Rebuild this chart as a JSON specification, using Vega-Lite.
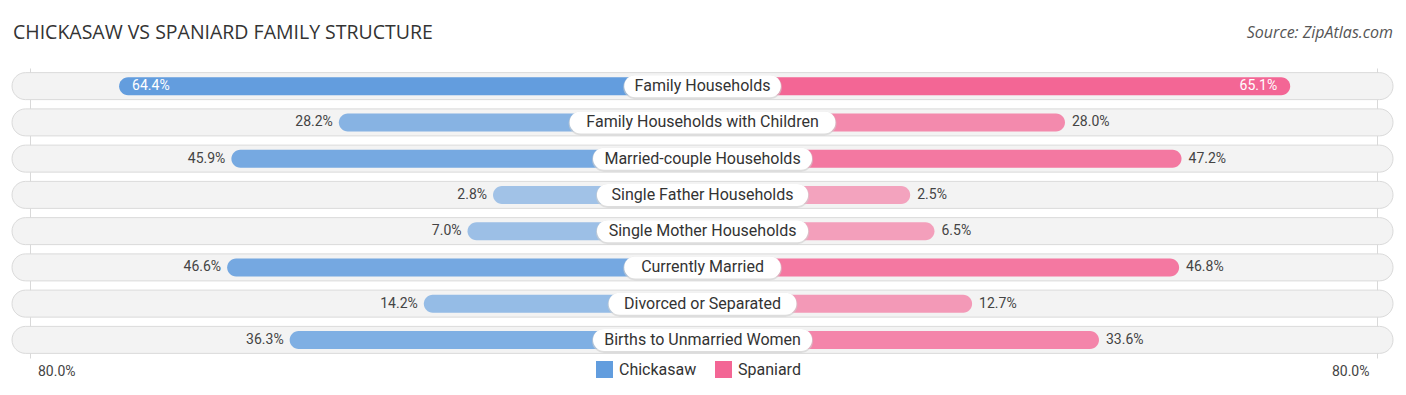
{
  "$schema": "https://vega.github.io/schema/vega-lite/v6.json",
  "width": 1406,
  "height": 290,
  "autosize": {"type": "none"},
  "padding": {"left": 0, "top": 68, "right": 0, "bottom": 37},
  "background": "white",
  "config": {"view": {"stroke": null}, "font": "Roboto"},
  "data": {"values": [
    {"cat": "Family Households", "chick": 0.644, "span": 0.651},
    {"cat": "Family Households with Children", "chick": 0.282, "span": 0.280},
    {"cat": "Married-couple Households", "chick": 0.459, "span": 0.472},
    {"cat": "Single Father Households", "chick": 0.028, "span": 0.025},
    {"cat": "Single Mother Households", "chick": 0.070, "span": 0.065},
    {"cat": "Currently Married", "chick": 0.466, "span": 0.468},
    {"cat": "Divorced or Separated", "chick": 0.142, "span": 0.127},
    {"cat": "Births to Unmarried Women", "chick": 0.363, "span": 0.336}
  ]},
  "encoding": {
    "y": {"field": "cat", "type": "nominal", "sort": null, "axis": null, "scale": {"paddingInner": 0, "paddingOuter": 0}}
  },
  "layer": [
    {
      "encoding": {
        "x": {"type": "quantitative", "scale": {"domain": [-1.4761, 0.8402], "reverse": true, "nice": false, "zero": false},
              "axis": {"values": [0.79], "labelExpr": "'80.0%'", "grid": true, "gridColor": "#d9d9d9", "gridWidth": 1, "domain": false, "ticks": false, "title": null, "orient": "bottom", "labelAlign": "left", "labelOffset": 7, "labelPadding": 6, "labelFontSize": 14, "labelColor": "#444444", "labelFont": "Roboto"}}
      },
      "layer": [
        {"mark": {"type": "bar", "height": 27, "cornerRadius": 13.5, "fill": "#f3f3f3", "stroke": "#dadada", "strokeWidth": 1},
         "encoding": {"x": {"datum": 0.8204, "type": "quantitative"}, "x2": {"datum": -1.4547}}},
        {"mark": {"type": "bar", "height": 18, "cornerRadius": 9},
         "encoding": {"x": {"field": "chick", "type": "quantitative"}, "x2": {"datum": -0.3171},
                      "color": {"datum": "Chickasaw", "type": "nominal",
                                "scale": {"domain": ["Chickasaw", "Spaniard"], "range": ["#629dde", "#f36695"]},
                                "legend": {"orient": "none", "legendX": 596, "legendY": 293, "direction": "horizontal", "title": null, "symbolType": "square", "symbolSize": 289, "symbolStrokeWidth": 0, "labelFontSize": 16, "labelColor": "#333333", "labelOffset": 6, "columnPadding": 18, "padding": 0, "labelFont": "Roboto"}},
                      "opacity": {"field": "chick", "type": "quantitative", "scale": {"domain": [0, 0.65], "range": [0.55, 1]}, "legend": null}}},
        {"transform": [{"filter": "datum.chick < 0.6"}],
         "mark": {"type": "text", "align": "right", "dx": -6, "fontSize": 14, "color": "#444444"},
         "encoding": {"x": {"field": "chick", "type": "quantitative"}, "text": {"field": "chick", "format": ".1%"}}},
        {"transform": [{"filter": "datum.chick >= 0.6"}],
         "mark": {"type": "text", "align": "left", "dx": 13, "fontSize": 14, "color": "white"},
         "encoding": {"x": {"field": "chick", "type": "quantitative"}, "text": {"field": "chick", "format": ".1%"}}},
        {"data": {"values": [{"t": "CHICKASAW VS SPANIARD FAMILY STRUCTURE"}]},
         "mark": {"type": "text", "align": "left", "baseline": "middle", "fontSize": 19.5, "font": "Open Sans", "color": "#333333"},
         "encoding": {"x": {"datum": 0.8188, "type": "quantitative"}, "y": {"value": -35}, "text": {"field": "t"}}}
      ]
    },
    {
      "encoding": {
        "x": {"type": "quantitative", "scale": {"domain": [-1.4745, 0.8418], "nice": false, "zero": false},
              "axis": {"values": [0.794], "labelExpr": "'80.0%'", "grid": true, "gridColor": "#d9d9d9", "gridWidth": 1, "domain": false, "ticks": false, "title": null, "orient": "bottom", "labelAlign": "right", "labelOffset": -8, "labelPadding": 6, "labelFontSize": 14, "labelColor": "#444444", "labelFont": "Roboto"}}
      },
      "layer": [
        {"mark": {"type": "bar", "height": 18, "cornerRadius": 9},
         "encoding": {"x": {"field": "span", "type": "quantitative"}, "x2": {"datum": -0.3171},
                      "color": {"datum": "Spaniard", "type": "nominal"},
                      "opacity": {"field": "span", "type": "quantitative", "legend": null}}},
        {"transform": [{"filter": "datum.span < 0.6"}],
         "mark": {"type": "text", "align": "left", "dx": 7, "fontSize": 14, "color": "#444444"},
         "encoding": {"x": {"field": "span", "type": "quantitative"}, "text": {"field": "span", "format": ".1%"}}},
        {"transform": [{"filter": "datum.span >= 0.6"}],
         "mark": {"type": "text", "align": "right", "dx": -13, "fontSize": 14, "color": "white"},
         "encoding": {"x": {"field": "span", "type": "quantitative"}, "text": {"field": "span", "format": ".1%"}}},
        {"mark": {"type": "rule", "strokeWidth": 24, "strokeCap": "round", "color": "#cfcfcf", "opacity": 0.6, "yOffset": 1,
                  "xOffset": {"expr": "-(length(datum.cat)*3.9+1)"}, "x2Offset": {"expr": "length(datum.cat)*3.9+1"}},
         "encoding": {"x": {"datum": -0.3171, "type": "quantitative"}, "x2": {"datum": -0.3171}}},
        {"mark": {"type": "rule", "strokeWidth": 22, "strokeCap": "round", "color": "white",
                  "xOffset": {"expr": "-(length(datum.cat)*3.9+1)"}, "x2Offset": {"expr": "length(datum.cat)*3.9+1"}},
         "encoding": {"x": {"datum": -0.3171, "type": "quantitative"}, "x2": {"datum": -0.3171}}},
        {"mark": {"type": "text", "align": "center", "fontSize": 16, "fill": "#333333"},
         "encoding": {"x": {"datum": -0.3171, "type": "quantitative"}, "text": {"field": "cat"}}},
        {"data": {"values": [{"t": "Source: ZipAtlas.com"}]},
         "mark": {"type": "text", "align": "right", "baseline": "middle", "fontSize": 16, "font": "Open Sans", "fontStyle": "italic", "color": "#555555"},
         "encoding": {"x": {"datum": 0.8204, "type": "quantitative"}, "y": {"value": -35}, "text": {"field": "t"}}}
      ]
    }
  ],
  "resolve": {"scale": {"x": "independent"}, "axis": {"x": "independent"}}
}
